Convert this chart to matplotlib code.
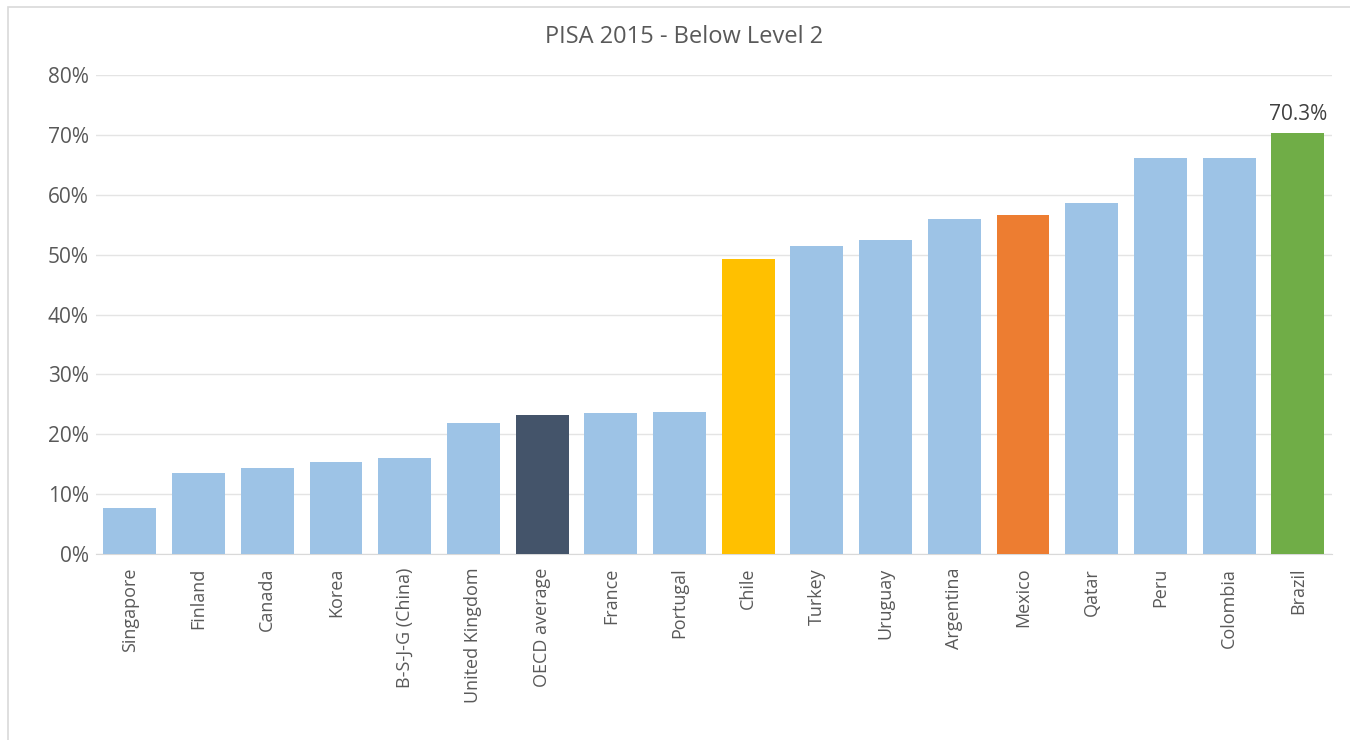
import matplotlib
matplotlib.use("Agg")
import matplotlib.pyplot as plt
from matplotlib.patches import Rectangle
from matplotlib.ticker import PercentFormatter

countries = ["Singapore", "Finland", "Canada", "Korea", "B-S-J-G (China)",
             "United Kingdom", "OECD average", "France", "Portugal", "Chile",
             "Turkey", "Uruguay", "Argentina", "Mexico", "Qatar", "Peru",
             "Colombia", "Brazil"]
below_level2 = [7.6, 13.6, 14.4, 15.4, 16.0, 21.9, 23.3, 23.5, 23.8, 49.3,
                51.4, 52.4, 56.0, 56.6, 58.6, 66.2, 66.2, 70.3]

blue = "#9DC3E6"
special = {"OECD average": "#44546A", "Chile": "#FFC000",
           "Mexico": "#ED7D31", "Brazil": "#70AD47"}
colors = [special.get(c, blue) for c in countries]

plt.rcParams['font.family'] = ['Open Sans', 'DejaVu Sans']
grey = "#595959"

fig = plt.figure(figsize=(13.5, 7.4), dpi=100)
fig.patches.append(Rectangle((0.006, -0.01), 1.0, 1.0, transform=fig.transFigure,
                             fill=False, edgecolor="#D9D9D9", linewidth=1.2))
ax = fig.add_axes([0.0708, 0.2514, 0.916, 0.647])

x = range(len(countries))
ax.bar(x, below_level2, width=0.77, color=colors, zorder=3)

ax.set_ylim(0, 80)
ax.set_xlim(-0.5, len(countries) - 0.5)
ax.set_yticks(range(0, 81, 10))
ax.yaxis.set_major_formatter(PercentFormatter(decimals=0))
ax.grid(axis="y", color="#E4E4E4", linewidth=1, zorder=0)
for s in ax.spines.values():
    s.set_visible(False)
ax.spines["bottom"].set_visible(True)
ax.spines["bottom"].set_color("#D9D9D9")
ax.tick_params(axis="both", length=0, colors=grey)
ax.tick_params(axis="y", labelsize=15, pad=5)
ax.set_xticks(list(x))
ax.set_xticklabels(countries, rotation=90, fontsize=13, color=grey)
ax.tick_params(axis="x", pad=10)

ax.annotate(f"{below_level2[-1]:.1f}%", (len(countries) - 1, below_level2[-1]),
            xytext=(0, 6), textcoords="offset points", ha="center", va="bottom",
            fontsize=15, color="#404040")

fig.text(0.507, 0.95, "PISA 2015 - Below Level 2", ha="center", va="center",
         fontsize=17, color=grey)

fig.savefig("out.png", dpi=100)
